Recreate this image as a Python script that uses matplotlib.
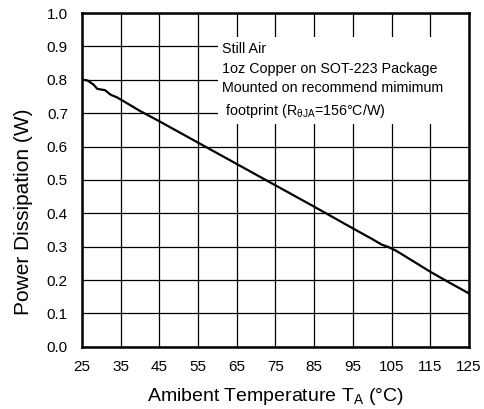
import matplotlib
matplotlib.use("Agg")
import matplotlib.pyplot as plt
from matplotlib.patches import Rectangle

plt.rcParams['font.family'] = ['Liberation Sans', 'DejaVu Sans']
plt.rcParams['mathtext.fontset'] = 'custom'
plt.rcParams['mathtext.rm'] = 'Liberation Sans'
plt.rcParams['mathtext.default'] = 'regular'

# Derating curve
temp = [25, 26.5, 28, 29, 31, 32.5, 34, 35.5, 40, 45, 55, 65, 75, 85, 95,
        100, 102.5, 104, 106, 108, 115, 120, 125]
power = [0.801, 0.798, 0.786, 0.773, 0.769, 0.755, 0.748, 0.738, 0.707, 0.676,
         0.612, 0.548, 0.484, 0.420, 0.355, 0.323, 0.306, 0.300, 0.289, 0.275,
         0.225, 0.192, 0.160]

x_ticks = [25, 35, 45, 55, 65, 75, 85, 95, 105, 115, 125]
y_ticks = [0.0, 0.1, 0.2, 0.3, 0.4, 0.5, 0.6, 0.7, 0.8, 0.9, 1.0]

note = ("Still Air\n"
        "1oz Copper on SOT-223 Package\n"
        "Mounted on recommend mimimum\n"
        " footprint (R$_{\u03b8JA}$=156\u00b0C/W)")

fig = plt.figure(figsize=(4.84, 4.09), dpi=100)
ax = fig.add_axes([0.169, 0.152, 0.800, 0.816])

ax.plot(temp, power, color='black', linewidth=1.6, zorder=3)

ax.set_xlim(25, 125)
ax.set_ylim(0, 1.0)
ax.set_xticks(x_ticks)
ax.set_yticks(y_ticks)
ax.set_yticklabels([f"{v:.1f}" for v in y_ticks])
ax.tick_params(length=0, labelsize=11)
ax.tick_params(axis='y', pad=10)
ax.tick_params(axis='x', pad=9.5)
ax.grid(True, color='black', linewidth=0.9)
for s in ax.spines.values():
    s.set_linewidth(1.8)
    s.set_zorder(5)

ax.set_xlabel("Amibent Temperature T$_A$ (\u00b0C)", fontsize=14)
ax.xaxis.label.set_va('center')
ax.xaxis.set_label_coords(0.5, -0.150)
ax.set_ylabel("Power Dissipation (W)", fontsize=15)
ax.yaxis.label.set_va('center')
ax.yaxis.set_label_coords(-0.150, 0.404)

# white panel behind the note, covering the grid
ax.add_patch(Rectangle((0.351, 0.668), 0.649, 0.260, transform=ax.transAxes,
                       facecolor='white', edgecolor='none', zorder=4))
ax.text(0.362, 0.913, note, transform=ax.transAxes, fontsize=10.3,
        va='top', ha='left', linespacing=1.5, zorder=4.5)

fig.savefig("out.png", dpi=100)
